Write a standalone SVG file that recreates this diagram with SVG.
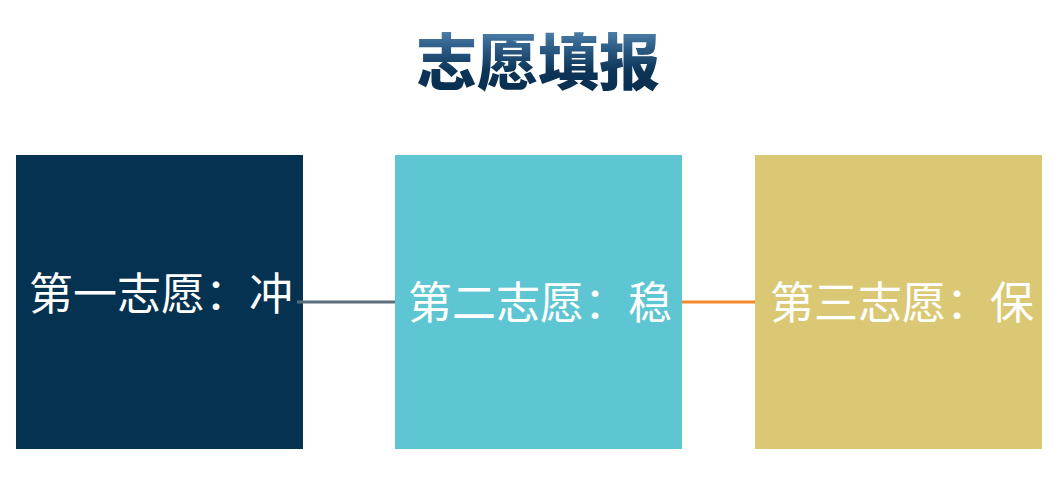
<svg xmlns="http://www.w3.org/2000/svg" width="1055" height="495" viewBox="0 0 1055 495">
  <defs>
    <linearGradient id="titleGrad" x1="0" y1="0" x2="0" y2="1">
      <stop offset="0" stop-color="#6fa4d1"/>
      <stop offset="0.4" stop-color="#2b5a83"/>
      <stop offset="0.65" stop-color="#0c3457"/>
      <stop offset="1" stop-color="#082c4b"/>
    </linearGradient>
  </defs>
  <style>
    .box { stroke: none; }
    .lbl { font-family: "Noto Sans CJK SC", "Noto Sans", sans-serif; font-size: 44px; fill: #ffffff; text-anchor: middle; dominant-baseline: central; }
    .title { font-family: "Noto Sans CJK SC", "Noto Sans", sans-serif; font-size: 61px; font-weight: 900; text-anchor: middle; dominant-baseline: central; }
    .conn { fill: none; stroke-width: 3; }
  </style>
  <rect x="0" y="0" width="1055" height="495" fill="#ffffff"/>
  <g id="title">
    <text class="title" x="538" y="58" fill="url(#titleGrad)">志愿填报</text>
  </g>
  <g id="node1">
    <rect class="box" x="16" y="155" width="287" height="294" fill="#053250"/>
    <text class="lbl" x="161" y="291">第一志愿：冲</text>
  </g>
  <g id="node2">
    <rect class="box" x="395" y="155" width="287" height="294" fill="#5ec5d2"/>
    <text class="lbl" x="540" y="300">第二志愿：稳</text>
  </g>
  <g id="node3">
    <rect class="box" x="755" y="155" width="287" height="294" fill="#dbc874"/>
    <text class="lbl" x="902" y="300">第三志愿：保</text>
  </g>
  <g id="connectors">
    <line class="conn" x1="297" y1="302" x2="395" y2="302" stroke="#5b6e7b"/>
    <line class="conn" x1="682" y1="302" x2="755" y2="302" stroke="#f28a2b"/>
  </g>
</svg>
